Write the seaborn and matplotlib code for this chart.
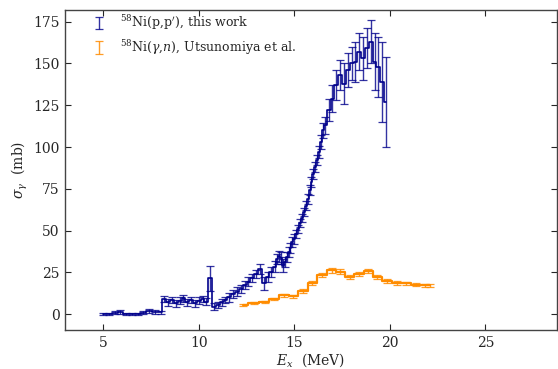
import numpy as np
import pandas as pd
import matplotlib
matplotlib.use("Agg")
import matplotlib.pyplot as plt
import seaborn as sns

# ---- data: 58Ni(p,p') this work ----
pp_energy = [5.0, 5.3, 5.6, 5.9, 6.2, 6.5, 6.8, 7.1, 7.4, 7.7, 8.0,
             8.2, 8.4, 8.6, 8.8, 9.0, 9.2, 9.4, 9.6, 9.8, 10.0, 10.2, 10.4, 10.6, 10.8,
             11.0, 11.2, 11.4, 11.6, 11.8, 12.0, 12.2, 12.4, 12.6, 12.8, 13.0, 13.2,
             13.4, 13.6, 13.8, 14.0,
             14.1, 14.2, 14.3, 14.4, 14.5, 14.6, 14.7, 14.8, 14.9, 15.0,
             15.1, 15.2, 15.3, 15.4, 15.5, 15.6, 15.7, 15.8, 15.9, 16.0,
             16.1, 16.2, 16.3, 16.4, 16.5,
             16.6, 16.8, 17.0, 17.2, 17.4, 17.6, 17.8, 18.0, 18.2, 18.4,
             18.6, 18.8, 19.0, 19.2, 19.4, 19.6, 19.8]
pp_sigma = [0.1, 0.2, 0.8, 1.5, 0.2, 0.1, 0.3, 0.9, 1.6, 1.5, 1.0,
            9.0, 7.0, 8.5, 6.5, 8.0, 9.5, 7.0, 8.5, 6.5, 8.0, 9.0, 7.5, 21.5, 4.5,
            5.5, 7.0, 8.5, 10.0, 12.0, 13.5, 15.0, 17.5, 19.5, 21.5, 24.0, 27.0,
            18.5, 22.0, 25.5, 28.5,
            33.0, 34.5, 33.5, 29.0, 31.0, 34.0, 37.0, 39.5, 43.0, 45.0,
            48.0, 51.0, 54.5, 57.5, 61.0, 65.0, 69.0, 74.0, 79.0, 84.0,
            88.0, 92.0, 97.0, 103.0, 110.0,
            113.0, 122.0, 129.0, 137.0, 143.0, 138.0, 146.0, 150.0, 151.0, 157.0,
            153.0, 159.0, 163.0, 151.0, 148.0, 139.0, 127.0]
pp_err = [0.5, 0.5, 0.8, 1.2, 0.5, 0.5, 0.6, 0.9, 1.2, 1.2, 1.0,
          2.0, 2.0, 2.0, 2.0, 2.0, 2.0, 2.0, 2.0, 2.0, 2.0, 2.0, 2.0, 7.5, 2.0,
          2.0, 2.0, 2.0, 2.5, 2.5, 2.5, 2.5, 2.5, 2.5, 2.5, 2.5, 3.0,
          4.0, 3.0, 3.0, 3.0,
          3.0, 3.5, 3.5, 4.0, 3.0, 3.0, 3.0, 3.0, 3.0, 3.0,
          2.5, 2.5, 2.5, 2.5, 2.5, 2.5, 3.0, 3.0, 3.0, 3.0,
          3.0, 3.0, 3.5, 4.0, 4.5,
          5.0, 6.5, 8.0, 9.0, 9.0, 12.0, 10.0, 10.0, 12.0, 11.0,
          13.0, 12.0, 13.0, 17.0, 18.0, 24.0, 27.0]

# ---- data: 58Ni(gamma,n) Utsunomiya et al. ----
gn_energy = [12.3, 12.9, 13.45, 13.95, 14.45, 14.95, 15.45, 15.95, 16.45, 16.95,
             17.4, 17.9, 18.4, 18.85, 19.35, 19.85, 20.35, 20.85, 21.35, 21.85, 22.1]
gn_sigma = [5.4, 6.6, 7.2, 9.0, 11.4, 10.8, 13.8, 18.6, 23.4, 26.2,
            25.5, 22.2, 24.0, 25.8, 22.2, 19.8, 18.6, 18.4, 17.6, 17.2, 17.2]
gn_err = [0.6, 0.7, 0.7, 0.8, 0.9, 0.9, 1.0, 1.2, 1.3, 1.4,
          1.4, 1.3, 1.3, 1.4, 1.3, 1.2, 1.1, 1.1, 1.0, 1.0, 1.0]

x_ticks = [5, 10, 15, 20, 25]
y_ticks = [0, 25, 50, 75, 100, 125, 150, 175]

pp_df = pd.DataFrame({"E": pp_energy, "sigma": pp_sigma})
gn_df = pd.DataFrame({"E": gn_energy, "sigma": gn_sigma})

sns.set_theme(style="ticks")
plt.rcParams["font.family"] = ["DejaVu Serif"]
plt.rcParams["mathtext.fontset"] = "dejavuserif"

fig, ax = plt.subplots(figsize=(5.58, 3.69), dpi=100)
fig.subplots_adjust(left=65/558, right=557/558, top=1-10/369, bottom=1-330/369)

blue = "#00008B"
orange = "#FF8C00"

# step lines
sns.lineplot(data=pp_df, x="E", y="sigma", drawstyle="steps-mid", color=blue,
             linewidth=1.2, ax=ax, legend=False)
sns.lineplot(data=gn_df, x="E", y="sigma", drawstyle="steps-mid", color=orange,
             linewidth=1.6, ax=ax, legend=False)

# error bars
ax.errorbar(pp_energy, pp_sigma, yerr=pp_err, fmt="none", ecolor=blue, elinewidth=1.0,
            capsize=3, capthick=0.9, alpha=0.8,
            label=r"$^{58}$Ni(p,p$\mathbf{'}$), this work")
ax.errorbar(gn_energy, gn_sigma, yerr=gn_err, fmt="none", ecolor=orange, elinewidth=1.0,
            capsize=3, capthick=0.9, alpha=0.85,
            label=r"$^{58}$Ni($\gamma$,$n$), Utsunomiya et al.")

ax.set_xlim(3.0, 28.75)
ax.set_ylim(-9.5, 182)
ax.set_xticks(x_ticks)
ax.set_yticks(y_ticks)
ax.tick_params(direction="in", top=True, right=True, labelsize=10, length=4, width=0.8,
               pad=4)
for s in ax.spines.values():
    s.set_color("#444444")
    s.set_linewidth(1.0)

ax.set_xlabel(r"$E_x$  (MeV)", fontsize=10, labelpad=1)
ax.set_ylabel(r"$\sigma_\gamma$  (mb)", fontsize=10, labelpad=2)

ax.legend(loc="upper left", frameon=False, fontsize=9, handlelength=0.7,
          handletextpad=1.3, borderaxespad=0.0, bbox_to_anchor=(0.05, 1.005),
          labelspacing=0.45)

fig.savefig("out.png", dpi=100)
